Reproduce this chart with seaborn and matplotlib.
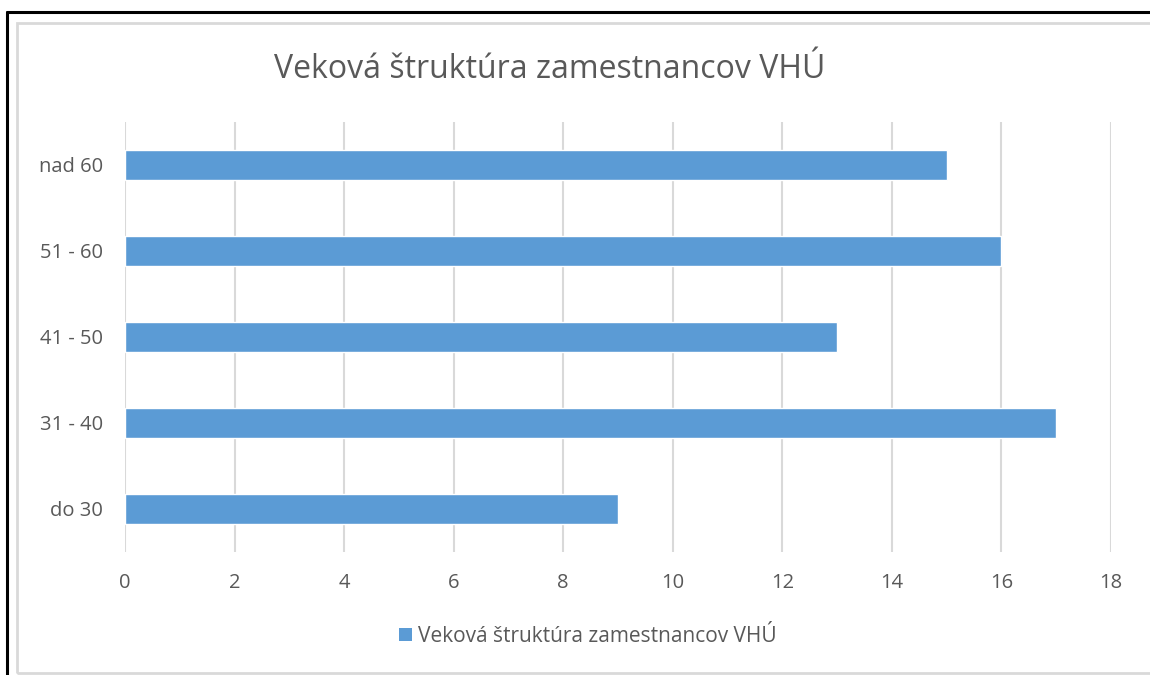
import matplotlib
matplotlib.use("Agg")
import matplotlib.pyplot as plt
from matplotlib.lines import Line2D
from matplotlib.patches import Rectangle, Patch
import seaborn as sns
import pandas as pd

# data
age_groups = ["nad 60", "51 - 60", "41 - 50", "31 - 40", "do 30"]
employees = [15, 16, 13, 17, 9]
series_name = "Veková štruktúra zamestnancov VHÚ"
x_ticks = list(range(0, 20, 2))

bar_color = "#5B9BD5"
text_color = "#595959"
grid_color = "#D9D9D9"

sns.set_theme(style="white")
plt.rcParams["font.family"] = ["Open Sans", "DejaVu Sans"]

df = pd.DataFrame({"group": age_groups, "count": employees})

W, H = 1150, 675
fig = plt.figure(figsize=(W / 100, H / 100), dpi=100)
ax = fig.add_axes([125 / W, 1 - 552 / H, (1111 - 125) / W, (552 - 122) / H])

sns.barplot(data=df, y="group", x="count", order=age_groups, color=bar_color,
            width=0.35, saturation=1, ax=ax, orient="h")

ax.set_xlim(0, 18)
ax.set_ylim(len(age_groups) - 0.5, -0.5)
ax.set_xticks(x_ticks)
ax.set_xlabel("")
ax.set_ylabel("")
ax.grid(axis="x", color=grid_color, linewidth=1.5)
ax.set_axisbelow(True)
for s in ax.spines.values():
    s.set_visible(False)
ax.tick_params(axis="both", length=0, labelsize=14.5, labelcolor=text_color)
ax.tick_params(axis="y", pad=16)
ax.tick_params(axis="x", pad=15)

fig.text(550 / W, 1 - 70 / H, series_name, ha="center", va="center",
         fontsize=23, color=text_color)

handle = Patch(facecolor=bar_color, edgecolor="none")
fig.legend([handle], [series_name], loc="center", bbox_to_anchor=(588 / W, 1 - 636 / H),
           frameon=False, fontsize=15, labelcolor=text_color,
           handlelength=0.6, handleheight=0.6, handletextpad=0.3)

# chart frame (light gray) and page border (black)
fig.patches.append(Rectangle((17 / W, 1 - 673 / H), 2, (673 - 23) / H,
                             transform=fig.transFigure, fill=False,
                             edgecolor=grid_color, linewidth=2))
fig.lines.append(Line2D([7 / W, 1], [1 - 12 / H, 1 - 12 / H],
                        transform=fig.transFigure, color="black", linewidth=2.2))
fig.lines.append(Line2D([7 / W, 7 / W], [0, 1 - 12 / H],
                        transform=fig.transFigure, color="black", linewidth=2.2))

fig.savefig("out.png", dpi=100)
